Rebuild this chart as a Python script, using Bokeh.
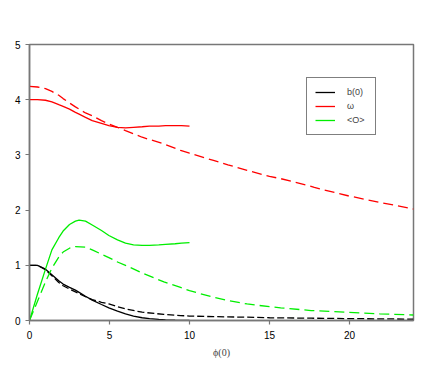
from bokeh.plotting import figure
from bokeh.models import FixedTicker, Range1d, Legend, LegendItem
from bokeh.embed import file_html
from bokeh.resources import INLINE

# Solid curves (phi(0) from 0 to 10)
x_solid = [0, 0.5, 1.0, 1.4, 1.83, 2.1, 2.5, 2.87, 3.1, 3.5, 3.92, 4.5, 4.96, 5.5, 6.0, 6.5, 7.04, 7.5, 8.08, 8.5, 9.1, 9.5, 10.0]
b0_solid = [1.0, 1.0, 0.93, 0.83, 0.72, 0.66, 0.6, 0.55, 0.51, 0.44, 0.37, 0.29, 0.23, 0.17, 0.12, 0.08, 0.05, 0.035, 0.02, 0.012, 0.006, 0.003, 0.0]
om_solid = [4.0, 4.0, 3.99, 3.96, 3.91, 3.88, 3.83, 3.77, 3.74, 3.68, 3.62, 3.57, 3.53, 3.5, 3.49, 3.5, 3.51, 3.52, 3.52, 3.53, 3.53, 3.53, 3.52]
O_solid = [0.0, 0.48, 0.93, 1.28, 1.5, 1.62, 1.74, 1.8, 1.82, 1.8, 1.73, 1.63, 1.54, 1.46, 1.4, 1.37, 1.36, 1.36, 1.37, 1.38, 1.39, 1.4, 1.41]

# Dashed curves (phi(0) from 0 to 24)
x_dash = [0, 0.5, 1.0, 1.4, 1.83, 2.1, 2.5, 2.87, 3.5, 3.92, 4.5, 4.96, 5.5, 6.0, 7.04, 8.4, 9.44, 10.0, 11.5, 12.4, 13.6, 15.0, 15.7, 17.6, 17.8, 19.9, 21.9, 24.0]
b0_dash = [1.0, 1.0, 0.92, 0.81, 0.69, 0.63, 0.57, 0.52, 0.43, 0.38, 0.33, 0.3, 0.25, 0.21, 0.15, 0.11, 0.09, 0.08, 0.07, 0.065, 0.06, 0.05, 0.048, 0.042, 0.041, 0.035, 0.03, 0.025]
om_dash = [4.24, 4.23, 4.2, 4.15, 4.08, 4.02, 3.94, 3.87, 3.76, 3.71, 3.62, 3.56, 3.5, 3.44, 3.32, 3.2, 3.08, 3.03, 2.9, 2.82, 2.72, 2.61, 2.57, 2.43, 2.41, 2.26, 2.14, 2.02]
O_dash = [0.0, 0.35, 0.7, 0.95, 1.15, 1.24, 1.31, 1.34, 1.33, 1.28, 1.2, 1.14, 1.06, 1.0, 0.86, 0.7, 0.6, 0.54, 0.42, 0.36, 0.3, 0.25, 0.23, 0.18, 0.18, 0.15, 0.12, 0.1]

x_ticks = [0, 5, 10, 15, 20]
y_ticks = [0, 1, 2, 3, 4, 5]
legend_labels = ["b(0)", "ω", "<O>"]
colors = ["#000000", "#ff0000", "#00ee00"]

p = figure(width=430, height=368, output_backend="svg", toolbar_location=None,
           x_range=Range1d(0, 24), y_range=Range1d(0, 5),
           min_border_left=29, min_border_right=17, min_border_top=44, min_border_bottom=48)

p.xgrid.visible = False
p.ygrid.visible = False
p.outline_line_color = "#777777"
p.outline_line_width = 1.5

for ax in (p.xaxis[0], p.yaxis[0]):
    ax.axis_line_color = "#777777"
    ax.axis_line_width = 1.5
    ax.major_tick_line_color = "#777777"
    ax.major_tick_line_width = 1.2
    ax.major_tick_in = 0
    ax.major_tick_out = 4
    ax.minor_tick_line_color = None
    ax.major_label_text_font = "Liberation Sans"
    ax.major_label_text_font_size = "10px"
    ax.major_label_text_color = "#000000"

p.xaxis.ticker = FixedTicker(ticks=x_ticks)
p.yaxis.ticker = FixedTicker(ticks=y_ticks)
p.xaxis.major_label_standoff = 6
p.yaxis.major_label_standoff = 5
p.xaxis.axis_label = "ϕ(0)"
p.xaxis.axis_label_text_font = "Liberation Serif"
p.xaxis.axis_label_text_font_style = "normal"
p.xaxis.axis_label_text_font_size = "10px"
p.xaxis.axis_label_standoff = 5

lw = 1.3
r1 = p.line(x_solid, b0_solid, line_color=colors[0], line_width=lw)
r2 = p.line(x_solid, om_solid, line_color=colors[1], line_width=lw)
r3 = p.line(x_solid, O_solid, line_color=colors[2], line_width=lw)
p.line(x_dash, b0_dash, line_color=colors[0], line_width=lw, line_dash="7 3")
p.line(x_dash, om_dash, line_color=colors[1], line_width=lw, line_dash="10 5")
p.line(x_dash, O_dash, line_color=colors[2], line_width=lw, line_dash="10 5")

legend = Legend(items=[LegendItem(label=legend_labels[0], renderers=[r1]),
                       LegendItem(label=legend_labels[1], renderers=[r2]),
                       LegendItem(label=legend_labels[2], renderers=[r3])],
                location=(277, 185))
legend.border_line_color = "#000000"
legend.border_line_width = 1
legend.label_text_font = "Liberation Sans"
legend.label_text_font_size = "9px"
legend.glyph_width = 20
legend.glyph_height = 12
legend.label_height = 12
legend.spacing = 2
legend.padding = 8
legend.margin = 0
legend.label_standoff = 12
legend.background_fill_alpha = 1
p.add_layout(legend, "center")

open("out.html", "w").write(file_html(p, INLINE))
